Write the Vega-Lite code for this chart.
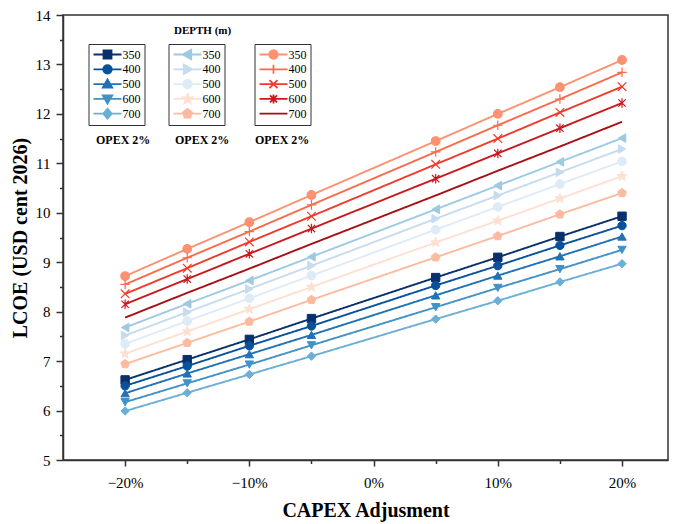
{
  "$schema": "https://vega.github.io/schema/vega-lite/v6.json",
  "width": 605,
  "height": 445,
  "autosize": "none",
  "padding": {"left": 63, "top": 15, "right": 10, "bottom": 64},
  "title": {"text": "DEPTH (m)", "anchor": "start", "frame": "group", "offset": -28, "dx": 111, "fontSize": 11, "fontWeight": "bold", "font": "Liberation Serif", "color": "#000"},
  "config": {
    "font": "Liberation Serif",
    "view": {"stroke": "#333", "strokeWidth": 1.5},
    "axis": {"domainColor": "#333", "domainWidth": 1.5, "tickColor": "#333", "tickWidth": 1.5, "labelFontSize": 15, "labelColor": "#000", "titleFontSize": 20, "titleFontWeight": "bold", "titleColor": "#000", "grid": false, "labelFont": "Liberation Serif", "titleFont": "Liberation Serif"},
    "legend": {"labelFont": "Liberation Serif", "labelColor": "#000", "columnPadding": 0}
  },
  "data": {"values": [
    {"g":"A","d":"350","x":-20,"y":6.62,"opex":"OPEX 2%"},{"g":"A","d":"350","x":-15,"y":7.03,"opex":"OPEX 2%"},{"g":"A","d":"350","x":-10,"y":7.44,"opex":"OPEX 2%"},{"g":"A","d":"350","x":-5,"y":7.86,"opex":"OPEX 2%"},{"g":"A","d":"350","x":5,"y":8.69,"opex":"OPEX 2%"},{"g":"A","d":"350","x":10,"y":9.10,"opex":"OPEX 2%"},{"g":"A","d":"350","x":15,"y":9.52,"opex":"OPEX 2%"},{"g":"A","d":"350","x":20,"y":9.93,"opex":"OPEX 2%"},
    {"g":"A","d":"400","x":-20,"y":6.50,"opex":"OPEX 2%"},{"g":"A","d":"400","x":-15,"y":6.90,"opex":"OPEX 2%"},{"g":"A","d":"400","x":-10,"y":7.31,"opex":"OPEX 2%"},{"g":"A","d":"400","x":-5,"y":7.71,"opex":"OPEX 2%"},{"g":"A","d":"400","x":5,"y":8.53,"opex":"OPEX 2%"},{"g":"A","d":"400","x":10,"y":8.93,"opex":"OPEX 2%"},{"g":"A","d":"400","x":15,"y":9.34,"opex":"OPEX 2%"},{"g":"A","d":"400","x":20,"y":9.74,"opex":"OPEX 2%"},
    {"g":"A","d":"500","x":-20,"y":6.35,"opex":"OPEX 2%"},{"g":"A","d":"500","x":-15,"y":6.75,"opex":"OPEX 2%"},{"g":"A","d":"500","x":-10,"y":7.14,"opex":"OPEX 2%"},{"g":"A","d":"500","x":-5,"y":7.53,"opex":"OPEX 2%"},{"g":"A","d":"500","x":5,"y":8.33,"opex":"OPEX 2%"},{"g":"A","d":"500","x":10,"y":8.73,"opex":"OPEX 2%"},{"g":"A","d":"500","x":15,"y":9.12,"opex":"OPEX 2%"},{"g":"A","d":"500","x":20,"y":9.52,"opex":"OPEX 2%"},
    {"g":"A","d":"600","x":-20,"y":6.17,"opex":"OPEX 2%"},{"g":"A","d":"600","x":-15,"y":6.55,"opex":"OPEX 2%"},{"g":"A","d":"600","x":-10,"y":6.93,"opex":"OPEX 2%"},{"g":"A","d":"600","x":-5,"y":7.32,"opex":"OPEX 2%"},{"g":"A","d":"600","x":5,"y":8.09,"opex":"OPEX 2%"},{"g":"A","d":"600","x":10,"y":8.48,"opex":"OPEX 2%"},{"g":"A","d":"600","x":15,"y":8.86,"opex":"OPEX 2%"},{"g":"A","d":"600","x":20,"y":9.25,"opex":"OPEX 2%"},
    {"g":"A","d":"700","x":-20,"y":5.99,"opex":"OPEX 2%"},{"g":"A","d":"700","x":-15,"y":6.36,"opex":"OPEX 2%"},{"g":"A","d":"700","x":-10,"y":6.73,"opex":"OPEX 2%"},{"g":"A","d":"700","x":-5,"y":7.10,"opex":"OPEX 2%"},{"g":"A","d":"700","x":5,"y":7.85,"opex":"OPEX 2%"},{"g":"A","d":"700","x":10,"y":8.22,"opex":"OPEX 2%"},{"g":"A","d":"700","x":15,"y":8.60,"opex":"OPEX 2%"},{"g":"A","d":"700","x":20,"y":8.97,"opex":"OPEX 2%"},
    {"g":"B","d":"350","x":-20,"y":7.68,"opex":"OPEX 2%"},{"g":"B","d":"350","x":-15,"y":8.16,"opex":"OPEX 2%"},{"g":"B","d":"350","x":-10,"y":8.63,"opex":"OPEX 2%"},{"g":"B","d":"350","x":-5,"y":9.11,"opex":"OPEX 2%"},{"g":"B","d":"350","x":5,"y":10.07,"opex":"OPEX 2%"},{"g":"B","d":"350","x":10,"y":10.55,"opex":"OPEX 2%"},{"g":"B","d":"350","x":15,"y":11.03,"opex":"OPEX 2%"},{"g":"B","d":"350","x":20,"y":11.51,"opex":"OPEX 2%"},
    {"g":"B","d":"400","x":-20,"y":7.52,"opex":"OPEX 2%"},{"g":"B","d":"400","x":-15,"y":7.99,"opex":"OPEX 2%"},{"g":"B","d":"400","x":-10,"y":8.46,"opex":"OPEX 2%"},{"g":"B","d":"400","x":-5,"y":8.93,"opex":"OPEX 2%"},{"g":"B","d":"400","x":5,"y":9.88,"opex":"OPEX 2%"},{"g":"B","d":"400","x":10,"y":10.35,"opex":"OPEX 2%"},{"g":"B","d":"400","x":15,"y":10.82,"opex":"OPEX 2%"},{"g":"B","d":"400","x":20,"y":11.29,"opex":"OPEX 2%"},
    {"g":"B","d":"500","x":-20,"y":7.35,"opex":"OPEX 2%"},{"g":"B","d":"500","x":-15,"y":7.81,"opex":"OPEX 2%"},{"g":"B","d":"500","x":-10,"y":8.27,"opex":"OPEX 2%"},{"g":"B","d":"500","x":-5,"y":8.73,"opex":"OPEX 2%"},{"g":"B","d":"500","x":5,"y":9.66,"opex":"OPEX 2%"},{"g":"B","d":"500","x":10,"y":10.12,"opex":"OPEX 2%"},{"g":"B","d":"500","x":15,"y":10.58,"opex":"OPEX 2%"},{"g":"B","d":"500","x":20,"y":11.04,"opex":"OPEX 2%"},
    {"g":"B","d":"600","x":-20,"y":7.15,"opex":"OPEX 2%"},{"g":"B","d":"600","x":-15,"y":7.60,"opex":"OPEX 2%"},{"g":"B","d":"600","x":-10,"y":8.05,"opex":"OPEX 2%"},{"g":"B","d":"600","x":-5,"y":8.50,"opex":"OPEX 2%"},{"g":"B","d":"600","x":5,"y":9.40,"opex":"OPEX 2%"},{"g":"B","d":"600","x":10,"y":9.84,"opex":"OPEX 2%"},{"g":"B","d":"600","x":15,"y":10.29,"opex":"OPEX 2%"},{"g":"B","d":"600","x":20,"y":10.74,"opex":"OPEX 2%"},
    {"g":"B","d":"700","x":-20,"y":6.94,"opex":"OPEX 2%"},{"g":"B","d":"700","x":-15,"y":7.37,"opex":"OPEX 2%"},{"g":"B","d":"700","x":-10,"y":7.80,"opex":"OPEX 2%"},{"g":"B","d":"700","x":-5,"y":8.24,"opex":"OPEX 2%"},{"g":"B","d":"700","x":5,"y":9.10,"opex":"OPEX 2%"},{"g":"B","d":"700","x":10,"y":9.53,"opex":"OPEX 2%"},{"g":"B","d":"700","x":15,"y":9.97,"opex":"OPEX 2%"},{"g":"B","d":"700","x":20,"y":10.40,"opex":"OPEX 2%"},
    {"g":"C","d":"350","x":-20,"y":8.72,"opex":"OPEX 2%"},{"g":"C","d":"350","x":-15,"y":9.27,"opex":"OPEX 2%"},{"g":"C","d":"350","x":-10,"y":9.81,"opex":"OPEX 2%"},{"g":"C","d":"350","x":-5,"y":10.36,"opex":"OPEX 2%"},{"g":"C","d":"350","x":5,"y":11.45,"opex":"OPEX 2%"},{"g":"C","d":"350","x":10,"y":12.00,"opex":"OPEX 2%"},{"g":"C","d":"350","x":15,"y":12.54,"opex":"OPEX 2%"},{"g":"C","d":"350","x":20,"y":13.09,"opex":"OPEX 2%"},
    {"g":"C","d":"400","x":-20,"y":8.55,"opex":"OPEX 2%"},{"g":"C","d":"400","x":-15,"y":9.09,"opex":"OPEX 2%"},{"g":"C","d":"400","x":-10,"y":9.62,"opex":"OPEX 2%"},{"g":"C","d":"400","x":-5,"y":10.16,"opex":"OPEX 2%"},{"g":"C","d":"400","x":5,"y":11.23,"opex":"OPEX 2%"},{"g":"C","d":"400","x":10,"y":11.77,"opex":"OPEX 2%"},{"g":"C","d":"400","x":15,"y":12.30,"opex":"OPEX 2%"},{"g":"C","d":"400","x":20,"y":12.84,"opex":"OPEX 2%"},
    {"g":"C","d":"500","x":-20,"y":8.36,"opex":"OPEX 2%"},{"g":"C","d":"500","x":-15,"y":8.88,"opex":"OPEX 2%"},{"g":"C","d":"500","x":-10,"y":9.41,"opex":"OPEX 2%"},{"g":"C","d":"500","x":-5,"y":9.93,"opex":"OPEX 2%"},{"g":"C","d":"500","x":5,"y":10.98,"opex":"OPEX 2%"},{"g":"C","d":"500","x":10,"y":11.50,"opex":"OPEX 2%"},{"g":"C","d":"500","x":15,"y":12.03,"opex":"OPEX 2%"},{"g":"C","d":"500","x":20,"y":12.55,"opex":"OPEX 2%"},
    {"g":"C","d":"600","x":-20,"y":8.15,"opex":"OPEX 2%"},{"g":"C","d":"600","x":-15,"y":8.66,"opex":"OPEX 2%"},{"g":"C","d":"600","x":-10,"y":9.17,"opex":"OPEX 2%"},{"g":"C","d":"600","x":-5,"y":9.68,"opex":"OPEX 2%"},{"g":"C","d":"600","x":5,"y":10.69,"opex":"OPEX 2%"},{"g":"C","d":"600","x":10,"y":11.20,"opex":"OPEX 2%"},{"g":"C","d":"600","x":15,"y":11.71,"opex":"OPEX 2%"},{"g":"C","d":"600","x":20,"y":12.22,"opex":"OPEX 2%"},
    {"g":"C","d":"700","x":-20,"y":7.88,"opex":"OPEX 2%"},{"g":"C","d":"700","x":-15,"y":8.38,"opex":"OPEX 2%"},{"g":"C","d":"700","x":-10,"y":8.87,"opex":"OPEX 2%"},{"g":"C","d":"700","x":-5,"y":9.37,"opex":"OPEX 2%"},{"g":"C","d":"700","x":5,"y":10.35,"opex":"OPEX 2%"},{"g":"C","d":"700","x":10,"y":10.85,"opex":"OPEX 2%"},{"g":"C","d":"700","x":15,"y":11.34,"opex":"OPEX 2%"},{"g":"C","d":"700","x":20,"y":11.84,"opex":"OPEX 2%"}
  ]},
  "encoding": {
    "x": {"field": "x", "type": "quantitative", "title": "CAPEX Adjusment",
      "scale": {"domain": [-25, 23.7], "nice": false, "zero": false},
      "axis": {"values": [-20,-15,-10,-5,0,5,10,15,20], "labelExpr": "datum.value % 10 === 0 ? datum.label + '%' : ''", "labelOverlap": false, "labelFlush": false, "labelPadding": 9, "titlePadding": 10,
        "tickSize": {"condition": {"test": "datum.value % 10 !== 0", "value": 3.5}, "value": 6}}},
    "y": {"field": "y", "type": "quantitative", "title": "LCOE (USD cent 2026)",
      "scale": {"domain": [5, 14], "nice": false, "zero": false},
      "axis": {"values": [5,5.5,6,6.5,7,7.5,8,8.5,9,9.5,10,10.5,11,11.5,12,12.5,13,13.5,14], "labelExpr": "datum.value % 1 === 0 ? format(datum.value, 'd') : ''", "labelOverlap": false, "labelFlush": false, "labelPadding": 6, "titlePadding": 5,
        "tickSize": {"condition": {"test": "datum.value % 1 !== 0", "value": 3.5}, "value": 7}}}
  },
  "layer": [
    {
      "transform": [{"filter": "datum.g === 'A'"}],
      "layer": [
        {"mark": {"type": "line", "strokeWidth": 1.9},
         "encoding": {
           "stroke": {"field": "d", "type": "nominal", "scale": {"domain": ["350","400","500","600","700"], "range": ["#08306b","#08519c","#2171b5","#4292c6","#6baed6"]},
             "legend": {"orient": "none", "legendX": 25.5, "legendY": 29, "title": null, "strokeColor": "#333", "padding": 4, "symbolSize": 100, "symbolOffset": 9, "labelOffset": 9, "labelFontSize": 12, "rowPadding": 1.8, "clipHeight": 13, "symbolStrokeWidth": 1.8,
               "encode": {"symbols": {"update": {
                 "shape": {"signal": "datum.value==='350'?'M-2.8,0L2.8,0M-0.8,-0.8L0.8,-0.8L0.8,0.8L-0.8,0.8Z':datum.value==='400'?'M-2.8,0L2.8,0M0.85,0L0.785,0.325L0.601,0.601L0.325,0.785L0,0.85L-0.325,0.785L-0.601,0.601L-0.785,0.325L-0.85,0L-0.785,-0.325L-0.601,-0.601L-0.325,-0.785L0,-0.85L0.325,-0.785L0.601,-0.601L0.785,-0.325Z':datum.value==='500'?'M-2.8,0L2.8,0M0,-0.95L0.95,0.7L-0.95,0.7Z':datum.value==='600'?'M-2.8,0L2.8,0M0,0.95L0.95,-0.7L-0.95,-0.7Z':'M-2.8,0L2.8,0M0,-1L0.85,0L0,1L-0.85,0Z'"},
                 "fill": {"signal": "datum.value==='350'?'#08306b':datum.value==='400'?'#08519c':datum.value==='500'?'#2171b5':datum.value==='600'?'#4292c6':'#6baed6'"}}}}}},
           "strokeDash": {"field": "opex", "type": "nominal", "scale": {"range": [[1,0]]},
             "legend": {"orient": "none", "legendX": 21, "legendY": 119, "title": null, "padding": 0, "symbolSize": 0, "symbolOpacity": 0, "labelOffset": 0, "labelFontSize": 12, "labelFontWeight": "bold"}}
         }},
        {"mark": {"type": "point", "filled": true, "size": 70, "opacity": 1, "strokeWidth": 1},
         "encoding": {
           "stroke": {"field": "d", "type": "nominal", "legend": null},
           "fill": {"field": "d", "type": "nominal", "legend": null, "scale": {"range": ["#08306b","#08519c","#2171b5","#4292c6","#6baed6"]}},
           "shape": {"field": "d", "type": "nominal", "legend": null, "scale": {"range": ["square","circle","triangle-up","triangle-down","diamond"]}}
         }}
      ]
    },
    {
      "transform": [{"filter": "datum.g === 'B'"}],
      "layer": [
        {"mark": {"type": "line", "strokeWidth": 1.9},
         "encoding": {
           "stroke": {"field": "d", "type": "nominal", "scale": {"domain": ["350","400","500","600","700"], "range": ["#9ecae1","#c6dbef","#deebf7","#fee0d2","#fcbba1"]},
             "legend": {"orient": "none", "legendX": 105.5, "legendY": 29, "title": null, "strokeColor": "#333", "padding": 4, "symbolSize": 100, "symbolOffset": 9, "labelOffset": 9, "labelFontSize": 12, "rowPadding": 1.8, "clipHeight": 13, "symbolStrokeWidth": 1.8,
               "encode": {"symbols": {"update": {
                 "shape": {"signal": "datum.value==='350'?'M-2.8,0L2.8,0M-0.95,0L0.75,-0.95L0.75,0.95Z':datum.value==='400'?'M-2.8,0L2.8,0M0.95,0L-0.75,-0.95L-0.75,0.95Z':datum.value==='500'?'M-2.8,0L2.8,0M0.85,0L0.785,0.325L0.601,0.601L0.325,0.785L0,0.85L-0.325,0.785L-0.601,0.601L-0.785,0.325L-0.85,0L-0.785,-0.325L-0.601,-0.601L-0.325,-0.785L0,-0.85L0.325,-0.785L0.601,-0.601L0.785,-0.325Z':datum.value==='600'?'M-2.8,0L2.8,0M0,-1L0.247,-0.34L0.951,-0.309L0.399,0.13L0.588,0.809L0,0.42L-0.588,0.809L-0.399,0.13L-0.951,-0.309L-0.247,-0.34Z':'M-2.8,0L2.8,0M0,-0.95L0.904,-0.294L0.558,0.769L-0.558,0.769L-0.904,-0.294Z'"},
                 "fill": {"signal": "datum.value==='350'?'#9ecae1':datum.value==='400'?'#c6dbef':datum.value==='500'?'#deebf7':datum.value==='600'?'#fee0d2':'#fcbba1'"}}}}}},
           "strokeDash": {"field": "opex", "type": "nominal", "scale": {"range": [[1,0]]},
             "legend": {"orient": "none", "legendX": 100, "legendY": 119, "title": null, "padding": 0, "symbolSize": 0, "symbolOpacity": 0, "labelOffset": 0, "labelFontSize": 12, "labelFontWeight": "bold"}}
         }},
        {"mark": {"type": "point", "filled": true, "size": 75, "opacity": 1, "strokeWidth": 1},
         "encoding": {
           "stroke": {"field": "d", "type": "nominal", "legend": null},
           "fill": {"field": "d", "type": "nominal", "legend": null, "scale": {"range": ["#9ecae1","#c6dbef","#deebf7","#fee0d2","#fcbba1"]}},
           "shape": {"field": "d", "type": "nominal", "legend": null, "scale": {"range": ["triangle-left","triangle-right","circle","M0,-1.2L0.296,-0.408L1.141,-0.371L0.479,0.156L0.706,0.971L0,0.504L-0.706,0.971L-0.479,0.156L-1.141,-0.371L-0.296,-0.408Z","M0,-1.05L1,-0.325L0.617,0.85L-0.617,0.85L-1,-0.325Z"]}}
         }}
      ]
    },
    {
      "transform": [{"filter": "datum.g === 'C'"}],
      "layer": [
        {"mark": {"type": "line", "strokeWidth": 1.9},
         "encoding": {
           "stroke": {"field": "d", "type": "nominal", "scale": {"domain": ["350","400","500","600","700"], "range": ["#fc9272","#fb6a4a","#ef3b2c","#cb181d","#a50f15"]},
             "legend": {"orient": "none", "legendX": 191.5, "legendY": 29, "title": null, "strokeColor": "#333", "padding": 4, "symbolSize": 100, "symbolOffset": 9, "labelOffset": 9, "labelFontSize": 12, "rowPadding": 1.8, "clipHeight": 13, "symbolStrokeWidth": 1.8,
               "encode": {"symbols": {"update": {
                 "shape": {"signal": "datum.value==='350'?'M-2.8,0L2.8,0M0.85,0L0.785,0.325L0.601,0.601L0.325,0.785L0,0.85L-0.325,0.785L-0.601,0.601L-0.785,0.325L-0.85,0L-0.785,-0.325L-0.601,-0.601L-0.325,-0.785L0,-0.85L0.325,-0.785L0.601,-0.601L0.785,-0.325Z':datum.value==='400'?'M-2.8,0L2.8,0M0,-0.9L0,0.9':datum.value==='500'?'M-2.8,0L2.8,0M-0.8,-0.8L0.8,0.8M-0.8,0.8L0.8,-0.8':datum.value==='600'?'M-2.8,0L2.8,0M-0.7,-0.7L0.7,0.7M-0.7,0.7L0.7,-0.7M0,-0.9L0,0.9':'M-2.8,0L2.8,0'"},
                 "fill": {"signal": "datum.value==='350'?'#fc9272':datum.value==='400'?'#fb6a4a':datum.value==='500'?'#ef3b2c':datum.value==='600'?'#cb181d':'#a50f15'"}}}}}},
           "strokeDash": {"field": "opex", "type": "nominal", "scale": {"range": [[1,0]]},
             "legend": {"orient": "none", "legendX": 180, "legendY": 119, "title": null, "padding": 0, "symbolSize": 0, "symbolOpacity": 0, "labelOffset": 0, "labelFontSize": 12, "labelFontWeight": "bold"}}
         }},
        {"mark": {"type": "point", "filled": true, "size": 75, "opacity": 1, "strokeWidth": 1.2},
         "encoding": {
           "stroke": {"field": "d", "type": "nominal", "legend": null},
           "fill": {"field": "d", "type": "nominal", "legend": null, "scale": {"range": ["#fc9272","#fb6a4a","#ef3b2c","#cb181d","#a50f15"]}},
           "shape": {"field": "d", "type": "nominal", "legend": null, "scale": {"range": ["circle","M-1.1,0L1.1,0M0,-1.1L0,1.1","M-1,-1L1,1M-1,1L1,-1","M-0.85,-0.85L0.85,0.85M-0.85,0.85L0.85,-0.85M0,-1.1L0,1.1","M0,0"]}}
         }}
      ]
    }
  ],
  "resolve": {"scale": {"stroke": "independent", "fill": "independent", "shape": "independent", "strokeDash": "independent"}}
}
